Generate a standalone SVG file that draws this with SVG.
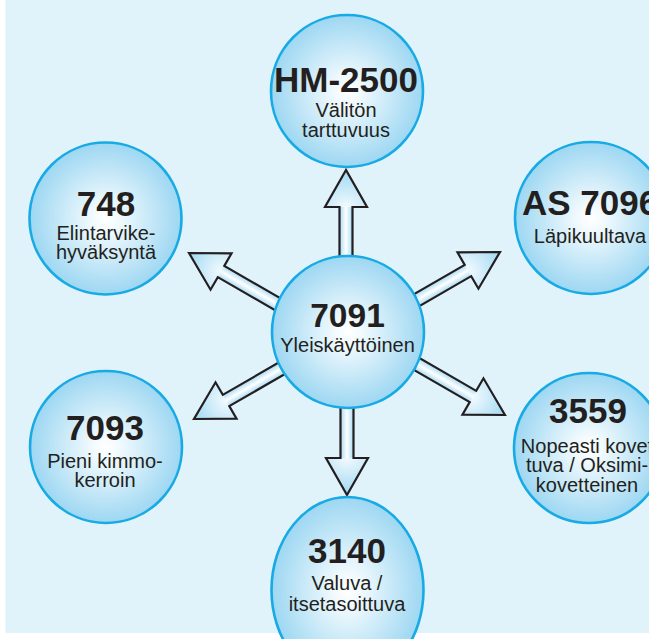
<svg xmlns="http://www.w3.org/2000/svg" xmlns:xlink="http://www.w3.org/1999/xlink" width="649" height="639" viewBox="0 0 649 639">
<style>
.node{fill:url(#cg);stroke:#17aae4;stroke-width:2.6}
.num{font-family:"Liberation Sans",Arial,sans-serif;font-weight:bold;font-size:35px;fill:#231f20;text-anchor:middle}
.sub{font-family:"Liberation Sans",Arial,sans-serif;font-size:20px;fill:#231f20;text-anchor:middle}
.outline{fill:none;stroke:#231f20;stroke-width:2.2;stroke-linejoin:miter}
</style>
<defs>
<radialGradient id="cg" cx="0.5" cy="0.5" r="0.5">
<stop offset="0" stop-color="#ffffff"/>
<stop offset="0.15" stop-color="#f4fbfe"/>
<stop offset="1" stop-color="#9dd7f2"/>
</radialGradient>
<linearGradient id="sg" x1="0" y1="0" x2="0" y2="1">
<stop offset="0" stop-color="#a8dbf3"/>
<stop offset="0.5" stop-color="#ffffff"/>
<stop offset="1" stop-color="#a8dbf3"/>
</linearGradient>
<radialGradient id="hg" cx="0" cy="0.5" r="1">
<stop offset="0" stop-color="#f2fafe"/>
<stop offset="1" stop-color="#9fd8f2"/>
</radialGradient>
<g id="arrow">
<rect x="-130" y="-6.5" width="94" height="13" fill="url(#sg)"/>
<polygon points="0,0 -37,-21 -37,21" fill="url(#hg)"/>
<path class="outline" d="M0,0 L-37,-21 L-37,-6.5 L-130,-6.5 L-130,6.5 L-37,6.5 L-37,21 Z"/>
</g>
</defs>
<rect x="0" y="0" width="649" height="639" fill="#ffffff"/>
<rect x="5.5" y="0" width="643.5" height="633" fill="#e0f3fb"/>
<g id="connectors">
<use xlink:href="#arrow" transform="translate(346,170) rotate(-90)"/>
<use xlink:href="#arrow" transform="translate(347,495) rotate(90)"/>
<use xlink:href="#arrow" transform="translate(189,253) rotate(210)"/>
<use xlink:href="#arrow" transform="translate(500,252) rotate(-30)"/>
<use xlink:href="#arrow" transform="translate(505,415) rotate(30)"/>
<use xlink:href="#arrow" transform="translate(194,419) rotate(150)"/>
</g>
<g id="n7091">
<circle class="node" cx="348" cy="332" r="76"/>
<text class="num" x="347.5" y="327" style="font-size:33.5px">7091</text>
<text class="sub" x="347.5" y="352">Yleiskäyttöinen</text>
</g>
<g id="nHM2500">
<circle class="node" cx="347" cy="91" r="76"/>
<text class="num" x="346" y="92">HM-2500</text>
<text class="sub" x="346" y="117">Välitön</text>
<text class="sub" x="346" y="137">tarttuvuus</text>
</g>
<g id="n748">
<circle class="node" cx="105.5" cy="218.5" r="76"/>
<text class="num" x="106" y="216">748</text>
<text class="sub" x="106" y="240">Elintarvike-</text>
<text class="sub" x="106" y="259">hyväksyntä</text>
</g>
<g id="nAS7096">
<circle class="node" cx="591" cy="218" r="76"/>
<text class="num" x="590" y="215">AS 7096</text>
<text class="sub" x="590" y="243">Läpikuultava</text>
</g>
<g id="n7093">
<circle class="node" cx="106" cy="447" r="76"/>
<text class="num" x="105" y="440">7093</text>
<text class="sub" x="105" y="468">Pieni kimmo-</text>
<text class="sub" x="105" y="487">kerroin</text>
</g>
<g id="n3559">
<circle class="node" cx="589" cy="448" r="75"/>
<text class="num" x="588" y="423">3559</text>
<text class="sub" x="587" y="453">Nopeasti kovet</text>
<text class="sub" x="587" y="472">tuva / Oksimi-</text>
<text class="sub" x="587" y="492">kovetteinen</text>
</g>
<g id="n3140">
<ellipse class="node" cx="347.5" cy="590" rx="76" ry="93"/>
<text class="num" x="347" y="563">3140</text>
<text class="sub" x="347" y="590">Valuva /</text>
<text class="sub" x="347" y="611">itsetasoittuva</text>
</g>
</svg>
